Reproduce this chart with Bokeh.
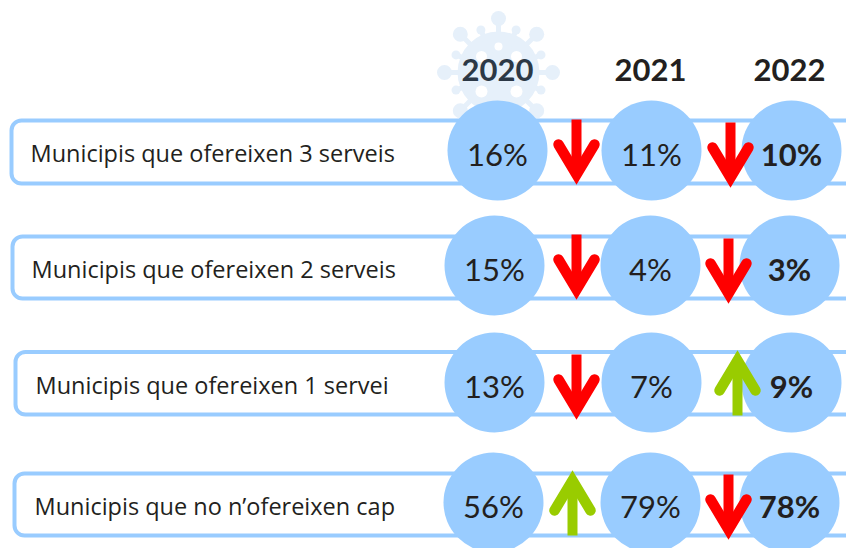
import math
from bokeh.plotting import figure
from bokeh.models import Range1d
from bokeh.core.properties import value
from bokeh.embed import file_html
from bokeh.resources import INLINE

# ---- data
years = ["2020", "2021", "2022"]
categories = ["Municipis que ofereixen 3 serveis", "Municipis que ofereixen 2 serveis",
              "Municipis que ofereixen 1 servei", "Municipis que no n\u2019ofereixen cap"]
v2020 = [16, 15, 13, 56]
v2021 = [11, 4, 7, 79]
v2022 = [10, 3, 9, 78]

# ---- layout (page pixels)
W, H = 846, 548
BLUE, RED, GREEN, INK = "#99CCFF", "#FF0000", "#99CC00", "#231F20"
box_left = [12, 13, 16, 15]
box_top = [121, 237, 352.5, 474]
box_bottom = [184, 299, 415, 536]
label_x = [31, 32, 36, 35]
label_y = [153, 269, 385, 506]
circle_y = [151, 266, 383, 503]
circle_x = [[498, 652, 792], [495, 651, 790], [495, 652, 792], [494, 651, 790]]
header_x = [498, 651, 790]
arrow_x = [[577, 731], [577, 729], [577, 738], [573, 729]]
arrow_top = [[120, 123], [235, 239], [355, 351], [471, 475]]
ARROW_LEN = 65

p = figure(width=W, height=H, x_range=Range1d(1, 847), y_range=Range1d(549, 1),
           toolbar_location=None, output_backend="svg", min_border=0)
p.axis.visible = False
p.grid.visible = False
p.outline_line_color = None

# ---- decorative virus behind the 2020 header
VC = "#E6F0FA"
vx, vy = 499, 73
p.circle([vx], [vy], radius=41, fill_color=VC, line_color=None)
for i in range(16):
    a = i * math.pi / 8
    long_spike = i % 2 == 0
    d, r = (54, 7.5) if long_spike else (46, 4.5)
    ex, ey = vx + d * math.sin(a), vy - d * math.cos(a)
    p.line([vx, ex], [vy, ey], line_color=VC, line_width=5)
    p.circle([ex], [ey], radius=r, fill_color=VC, line_color=None)
p.circle([499, 482, 517, 482, 517], [47, 57, 57, 92, 92], radius=[4, 5.5, 5.5, 6, 6],
         fill_color="white", line_color=None)

# ---- row boxes
p.quad(left=box_left, right=[860] * 4, top=box_top, bottom=box_bottom, fill_color="white",
       line_color=BLUE, line_width=4, border_radius=10)

# ---- circles
rows = list(zip(v2020, v2021, v2022))
for r, vals in enumerate(rows):
    p.circle(circle_x[r], [circle_y[r]] * 3, radius=50, fill_color=BLUE, line_color=None)

# ---- arrows, direction taken from the change between years
for r, vals in enumerate(rows):
    for k in range(2):
        up = vals[k + 1] > vals[k]
        x, top = arrow_x[r][k], arrow_top[r][k]
        bottom = top + ARROW_LEN
        col = GREEN if up else RED
        tip, tail, wing, s = (top, bottom, top + 40, 1) if up else (bottom, top, bottom - 40, -1)
        vertex = tip + 10 * s
        p.line([x, x], [tail, vertex], line_color=col, line_width=10)
        p.line([x - 18, x, x + 18], [wing, vertex, wing], line_color=col, line_width=10.5,
               line_join="miter", line_cap="round")

# ---- texts
p.text(label_x, label_y, text=categories, text_font=value("Open Sans"), text_font_size="23.5px",
       text_color=INK, text_baseline="middle", text_align="left")
p.text(header_x, [70] * 3, text=years, text_font=value("Lato"), text_font_size="31px",
       text_font_style="bold", text_color=["#2C3846", INK, INK], text_baseline="middle",
       text_align="center")
for r, vals in enumerate(rows):
    p.text(circle_x[r][:2], [circle_y[r] + 3] * 2, text=[f"{v}%" for v in vals[:2]],
           text_font=value("Lato"), text_font_size="31px", text_color=INK,
           text_baseline="middle", text_align="center")
    p.text(circle_x[r][2:], [circle_y[r] + 3], text=[f"{vals[2]}%"],
           text_font=value("Lato"), text_font_size="31px", text_font_style="bold",
           text_color=INK, text_baseline="middle", text_align="center")

open("out.html", "w").write(file_html(p, INLINE))
